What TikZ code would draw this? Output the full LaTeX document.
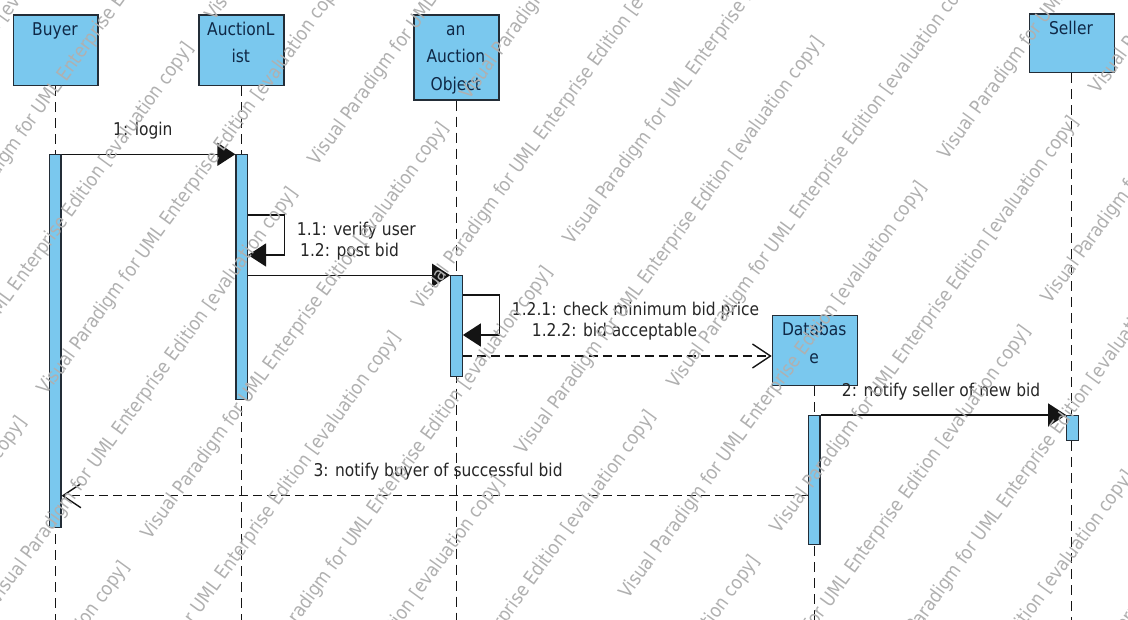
\documentclass[tikz,border=0pt]{standalone}
\usepackage{fontspec}
\setmainfont{DejaVu Sans}
\newfontfamily\vpfont[FakeStretch=0.88]{DejaVu Sans}
\usetikzlibrary{arrows.meta,calc}
\definecolor{boxfill}{RGB}{122,200,238}
\definecolor{boxline}{RGB}{35,45,55}
\definecolor{boxtext}{RGB}{15,40,70}
\definecolor{msgline}{RGB}{20,20,20}
\definecolor{wmgray}{RGB}{176,176,176}
\begin{document}
\begin{tikzpicture}[x=1pt,y=-1pt,
  objbox/.style={draw=boxline, line width=1.4pt, fill=boxfill, inner sep=0pt, anchor=north west},
  objtext/.style={text=boxtext, font=\vpfont\fontsize{17.6}{20}\selectfont, anchor=base, inner sep=0pt},
  lifeline/.style={draw=msgline, line width=1.1pt, dash pattern=on 10pt off 6pt},
  actbar/.style={draw=boxline, line width=1.2pt, fill=boxfill, inner sep=0pt, minimum width=11.5pt, anchor=north},
  msgtext/.style={text=black!85, font=\vpfont\fontsize{17.6}{20}\selectfont, anchor=base west, inner sep=0pt},
  syncmsg/.style={draw=msgline, line width=1.4pt, -{Triangle[length=18pt,width=23pt]}},
  retmsg/.style={draw=msgline, line width=1.4pt, dash pattern=on 9pt off 5pt, -{Straight Barb[length=18pt,width=24pt]}},
  wm/.style={text=wmgray, font=\vpfont\fontsize{19}{22}\selectfont, anchor=base west, rotate=54, inner sep=0pt},
]
\useasboundingbox (0,0) rectangle (1128,620);
\fill[white] (0,0) rectangle (1128,620);
\coordinate (bottom) at (0,620);

% object boxes
\node[objbox, minimum width=84.6pt, minimum height=70.7pt] (buyer) at (12.7,14.3) {};
\node[objbox, minimum width=85pt, minimum height=70.7pt] (alist) at (198.3,14.3) {};
\node[objbox, minimum width=85pt, minimum height=85pt] (aobj) at (413.3,14.3) {};
\node[objbox, minimum width=85pt, minimum height=70pt] (db) at (771.7,315) {};
\node[objbox, minimum width=85pt, minimum height=58.5pt] (seller) at (1028.5,13.5) {};

% lifelines
\draw[lifeline] (buyer.south) -- (buyer.south |- bottom);
\draw[lifeline] (alist.south) -- (alist.south |- bottom);
\draw[lifeline] (aobj.south) -- (aobj.south |- bottom);
\draw[lifeline] (db.south) -- (db.south |- bottom);
\draw[lifeline] (seller.south) -- (seller.south |- bottom);

% box texts
\node[objtext] (buyerT) at (55,35.5) {Buyer};
\node[objtext] (alistT1) at (240.8,35.5) {AuctionL};
\node[objtext] (alistT2) at (240.8,63) {ist};
\node[objtext] (aobjT1) at (455.8,35.5) {an};
\node[objtext] (aobjT2) at (455.8,63) {Auction};
\node[objtext] (aobjT3) at (455.8,90.5) {Object};
\node[objtext] (dbT1) at (814.2,336) {Databas};
\node[objtext] (dbT2) at (814.2,363.3) {e};
\node[objtext] (sellerT) at (1071,35) {Seller};

% activation bars
\node[actbar, minimum height=372.4pt] (actBuyer) at (55.3,154.3) {};
\node[actbar, minimum height=245pt] (actAL) at (241.7,154.3) {};
\node[actbar, minimum height=100.4pt] (actAO) at (456.5,275.3) {};
\node[actbar, minimum height=129pt] (actDB) at (814.2,415) {};
\node[actbar, minimum height=25pt] (actSel) at (1072.5,415) {};

% helper coordinates for message heights
\coordinate (s11a) at (0,215);
\coordinate (s11b) at (0,255);
\coordinate (s121a) at (0,295);
\coordinate (s121b) at (0,335);
\coordinate (c122) at (0,356);
\coordinate (c3) at (0,495.7);

% messages
\draw[syncmsg] (actBuyer.north east) -- (actAL.north west);
\draw[syncmsg] (actAL.east |- s11a) -- (284.3,215) -- (284.3,255) -- (actAL.east |- s11b);
\draw[syncmsg] (actAL.east |- actAO.north) -- (actAO.north west);
\draw[syncmsg] (actAO.east |- s121a) -- (499.3,295) -- (499.3,335) -- (actAO.east |- s121b);
\draw[retmsg] (actAO.east |- c122) -- (db.west |- c122);
\draw[syncmsg] (actDB.north east) -- (actSel.north west);
\draw[retmsg] (actDB.west |- c3) -- (actBuyer.east |- c3);

% message labels
\node[msgtext] (l1) at (113,136) {1: login};
\node[msgtext] (l11) at (296.7,236) {1.1: verify user};
\node[msgtext] (l12) at (300,256.7) {1.2: post bid};
\node[msgtext] (l121) at (511.7,315.7) {1.2.1: check minimum bid price};
\node[msgtext] (l122) at (531.7,337) {1.2.2: bid acceptable};
\node[msgtext] (l2) at (841.7,397) {2: notify seller of new bid};
\node[msgtext] (l3) at (313.3,476) {3: notify buyer of successful bid};

% watermark (drawn over the diagram, as in the reference)
\begin{scope}
\clip (0,0) rectangle (1128,620);
\foreach \k in {-6,...,11}{
  \pgfmathtruncatemacro\m{floor(\k/2)}
  \pgfmathtruncatemacro\odd{\k-2*\m}
  \pgfmathsetmacro\ph{194-56*\m+345*\odd}
  \pgfmathsetmacro\vv{439+84.3*\k}
  \pgfmathsetmacro\umin{max(-0.809*\vv/0.5878, (0.5878*\vv-620)/0.809)}
  \pgfmathsetmacro\umax{min((1128-0.809*\vv)/0.5878, 0.5878*\vv/0.809)}
  \foreach \j in {-4,...,4}{
    \pgfmathsetmacro\uu{\ph+543*\j}
    \pgfmathtruncatemacro\keep{and(\uu<\umax-20, \uu+505>\umin+20)}
    \ifnum\keep=1
      \pgfmathsetmacro\X{\uu*0.5878+\vv*0.8090}
      \pgfmathsetmacro\Y{-\uu*0.8090+\vv*0.5878}
      \node[wm] (wm\k q\j) at (\X,\Y) {Visual Paradigm for UML Enterprise Edition [evaluation copy]};
    \fi
  }
}
\end{scope}
\end{tikzpicture}
\end{document}
